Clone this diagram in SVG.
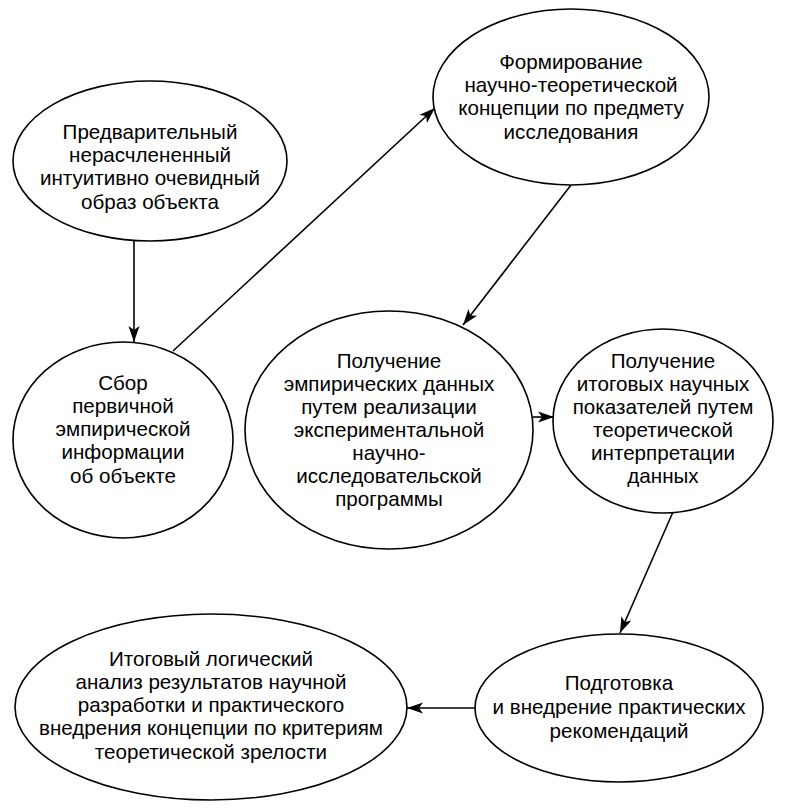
<svg xmlns="http://www.w3.org/2000/svg" width="800" height="812" viewBox="0 0 800 812">
<defs>
<style>
.node ellipse{fill:#fff;stroke:#000;stroke-width:1.6}
.node text{font-family:"Liberation Sans","Noto Sans",Arial,sans-serif;font-size:20.6px;fill:#000;text-anchor:middle}
.conn line{stroke:#000;stroke-width:1.6;fill:none;marker-end:url(#arr)}
</style>
<marker id="arr" markerUnits="userSpaceOnUse" markerWidth="17" markerHeight="12" refX="16" refY="6" orient="auto">
<path d="M0,0.5 L16,6 L0,11.5 L4,6 Z" fill="#000"/>
</marker>
</defs>
<rect width="800" height="812" fill="#fff"/>
<g id="connectors" class="conn">
<line x1="134" y1="241" x2="134" y2="342"/>
<line x1="173" y1="351" x2="435" y2="108"/>
<line x1="571" y1="185" x2="463" y2="325"/>
<line x1="533" y1="417" x2="554" y2="417"/>
<line x1="673" y1="512" x2="620" y2="633"/>
<line x1="475" y1="708" x2="407" y2="708"/>
</g>
<g id="n1" class="node">
<ellipse cx="150" cy="161" rx="137" ry="80"/>
<text x="150" y="139">Предварительный</text>
<text x="150" y="162">нерасчлененный</text>
<text x="150" y="185">интуитивно очевидный</text>
<text x="150" y="209">образ объекта</text>
</g>
<g id="n2" class="node">
<ellipse cx="571" cy="97" rx="138" ry="88"/>
<text x="571" y="69">Формирование</text>
<text x="571" y="92">научно-теоретической</text>
<text x="571" y="115">концепции по предмету</text>
<text x="571" y="139">исследования</text>
</g>
<g id="n3" class="node">
<ellipse cx="123" cy="440" rx="110" ry="98"/>
<text x="123" y="390">Сбор</text>
<text x="123" y="413">первичной</text>
<text x="123" y="436">эмпирической</text>
<text x="123" y="459">информации</text>
<text x="123" y="483">об объекте</text>
</g>
<g id="n4" class="node">
<ellipse cx="389" cy="430" rx="144" ry="119"/>
<text x="389" y="368">Получение</text>
<text x="389" y="391">эмпирических данных</text>
<text x="389" y="414">путем реализации</text>
<text x="389" y="437">экспериментальной</text>
<text x="389" y="460">научно-</text>
<text x="389" y="483">исследовательской</text>
<text x="389" y="506">программы</text>
</g>
<g id="n5" class="node">
<ellipse cx="663" cy="421" rx="110" ry="92"/>
<text x="663" y="368">Получение</text>
<text x="663" y="391">итоговых научных</text>
<text x="663" y="414">показателей путем</text>
<text x="663" y="437">теоретической</text>
<text x="663" y="460">интерпретации</text>
<text x="663" y="483">данных</text>
</g>
<g id="n6" class="node">
<ellipse cx="619" cy="708" rx="144" ry="74"/>
<text x="619" y="690">Подготовка</text>
<text x="619" y="714">и внедрение практических</text>
<text x="619" y="738">рекомендаций</text>
</g>
<g id="n7" class="node">
<ellipse cx="211" cy="707" rx="196" ry="93"/>
<text x="211" y="666">Итоговый логический</text>
<text x="211" y="689">анализ результатов научной</text>
<text x="211" y="712">разработки и практического</text>
<text x="211" y="735">внедрения концепции по критериям</text>
<text x="211" y="759">теоретической зрелости</text>
</g>
</svg>
